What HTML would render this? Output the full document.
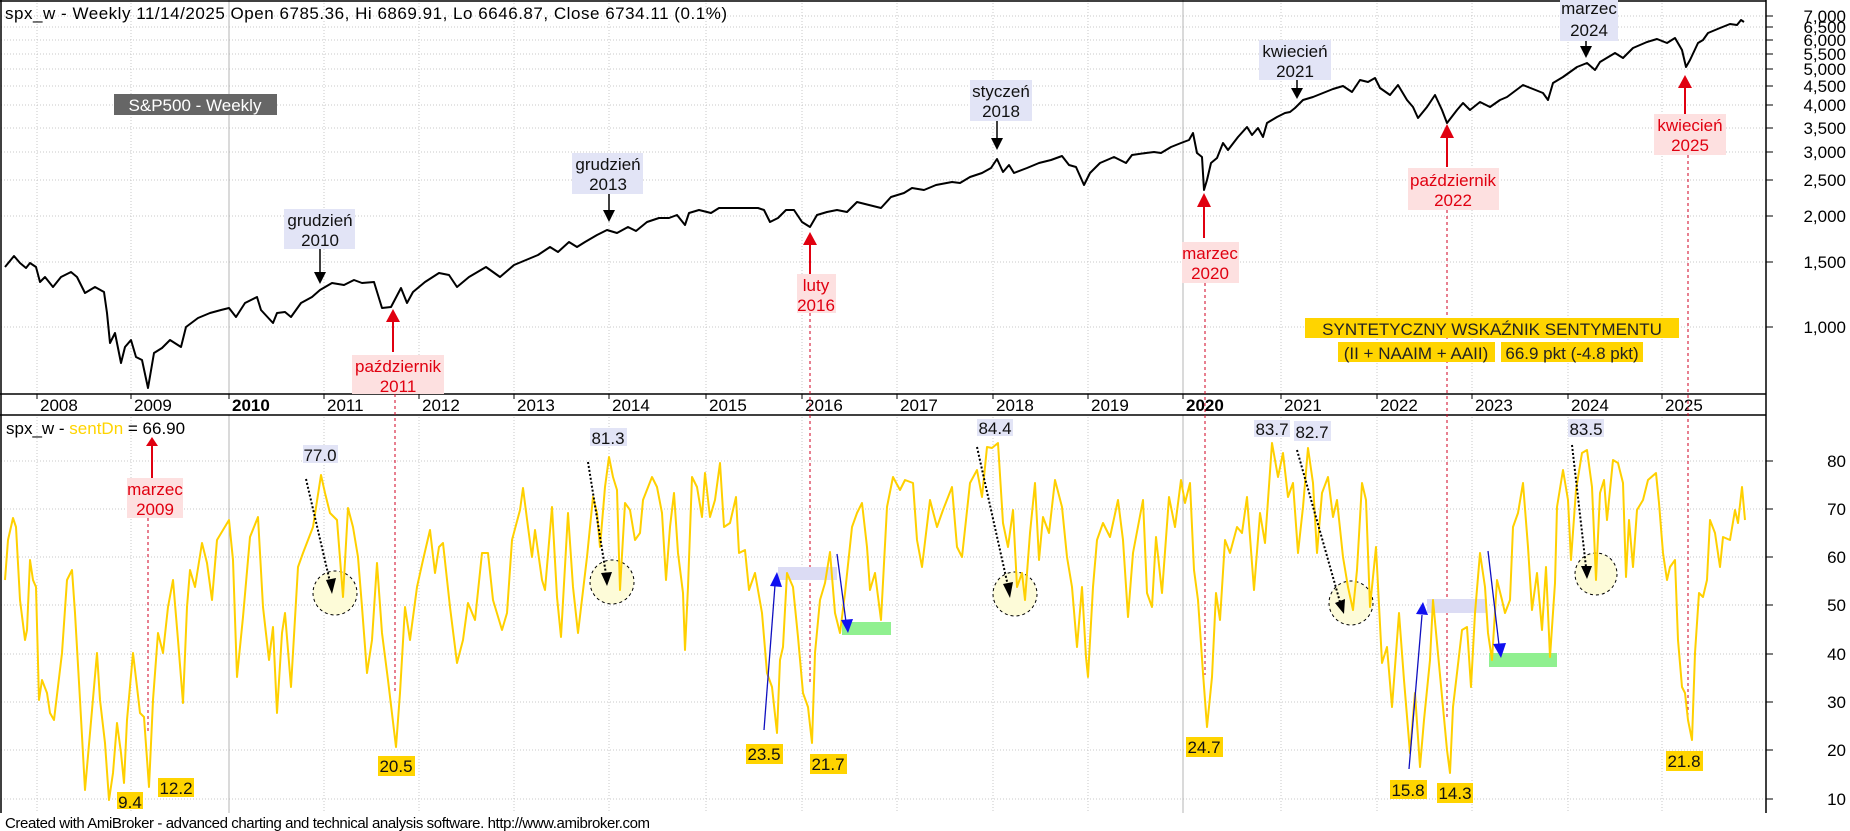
<!DOCTYPE html>
<html><head><meta charset="utf-8"><style>
html,body{margin:0;padding:0;background:#fff;}
svg{display:block;font-family:"Liberation Sans",Arial,sans-serif;}
</style></head><body>
<svg width="1850" height="831" viewBox="0 0 1850 831" xmlns="http://www.w3.org/2000/svg">
<rect width="1850" height="831" fill="#fff"/>
<!-- grid horizontal top -->
<g stroke="#c8c8c8" stroke-width="1" stroke-dasharray="1,2">
<line x1="1" y1="16" x2="1766" y2="16"/><line x1="1" y1="27" x2="1766" y2="27"/><line x1="1" y1="40" x2="1766" y2="40"/><line x1="1" y1="54" x2="1766" y2="54"/><line x1="1" y1="69" x2="1766" y2="69"/><line x1="1" y1="86" x2="1766" y2="86"/><line x1="1" y1="105" x2="1766" y2="105"/><line x1="1" y1="128" x2="1766" y2="128"/><line x1="1" y1="152" x2="1766" y2="152"/><line x1="1" y1="180" x2="1766" y2="180"/><line x1="1" y1="216" x2="1766" y2="216"/><line x1="1" y1="262" x2="1766" y2="262"/><line x1="1" y1="327" x2="1766" y2="327"/>
<line x1="1" y1="461" x2="1766" y2="461"/><line x1="1" y1="509" x2="1766" y2="509"/><line x1="1" y1="557" x2="1766" y2="557"/><line x1="1" y1="605" x2="1766" y2="605"/><line x1="1" y1="654" x2="1766" y2="654"/><line x1="1" y1="702" x2="1766" y2="702"/><line x1="1" y1="750" x2="1766" y2="750"/><line x1="1" y1="799" x2="1766" y2="799"/>
</g>
<!-- vertical grid -->
<g stroke="#c8c8c8" stroke-width="1" stroke-dasharray="1,2">
<line x1="37" y1="0" x2="37" y2="813"/><line x1="131" y1="0" x2="131" y2="813"/><line x1="324" y1="0" x2="324" y2="813"/><line x1="419" y1="0" x2="419" y2="813"/><line x1="514" y1="0" x2="514" y2="813"/><line x1="609" y1="0" x2="609" y2="813"/><line x1="706" y1="0" x2="706" y2="813"/><line x1="802" y1="0" x2="802" y2="813"/><line x1="897" y1="0" x2="897" y2="813"/><line x1="993" y1="0" x2="993" y2="813"/><line x1="1088" y1="0" x2="1088" y2="813"/><line x1="1281" y1="0" x2="1281" y2="813"/><line x1="1377" y1="0" x2="1377" y2="813"/><line x1="1472" y1="0" x2="1472" y2="813"/><line x1="1568" y1="0" x2="1568" y2="813"/><line x1="1662" y1="0" x2="1662" y2="813"/>
</g>
<g stroke="#b4b4b4" stroke-width="1"><line x1="229" y1="0" x2="229" y2="813"/><line x1="1183" y1="0" x2="1183" y2="813"/></g>
<!-- date strip -->
<rect x="1" y="395" width="1765" height="20" fill="#fff"/>
<g stroke="#000" stroke-width="1.5"><line x1="0" y1="394" x2="1766" y2="394"/><line x1="0" y1="415" x2="1766" y2="415"/><line x1="0" y1="1" x2="1766" y2="1"/><line x1="1" y1="0" x2="1" y2="813"/><line x1="1766" y1="0" x2="1766" y2="813"/></g>
<g stroke="#000" stroke-width="1"><line x1="37" y1="394" x2="37" y2="399"/><line x1="131" y1="394" x2="131" y2="399"/><line x1="229" y1="394" x2="229" y2="399"/><line x1="324" y1="394" x2="324" y2="399"/><line x1="419" y1="394" x2="419" y2="399"/><line x1="514" y1="394" x2="514" y2="399"/><line x1="609" y1="394" x2="609" y2="399"/><line x1="706" y1="394" x2="706" y2="399"/><line x1="802" y1="394" x2="802" y2="399"/><line x1="897" y1="394" x2="897" y2="399"/><line x1="993" y1="394" x2="993" y2="399"/><line x1="1088" y1="394" x2="1088" y2="399"/><line x1="1183" y1="394" x2="1183" y2="399"/><line x1="1281" y1="394" x2="1281" y2="399"/><line x1="1377" y1="394" x2="1377" y2="399"/><line x1="1472" y1="394" x2="1472" y2="399"/><line x1="1568" y1="394" x2="1568" y2="399"/><line x1="1662" y1="394" x2="1662" y2="399"/></g>
<g font-size="17" fill="#000">
<text x="40" y="411">2008</text><text x="134" y="411">2009</text><text x="232" y="411" font-weight="bold">2010</text><text x="327" y="411">2011</text><text x="422" y="411">2012</text><text x="517" y="411">2013</text><text x="612" y="411">2014</text><text x="709" y="411">2015</text><text x="805" y="411">2016</text><text x="900" y="411">2017</text><text x="996" y="411">2018</text><text x="1091" y="411">2019</text><text x="1186" y="411" font-weight="bold">2020</text><text x="1284" y="411">2021</text><text x="1380" y="411">2022</text><text x="1475" y="411">2023</text><text x="1571" y="411">2024</text><text x="1665" y="411">2025</text>
</g>
<!-- right axis ticks & labels -->
<g stroke="#000"><line x1="1766" y1="16" x2="1773" y2="16"/><line x1="1766" y1="27" x2="1773" y2="27"/><line x1="1766" y1="40" x2="1773" y2="40"/><line x1="1766" y1="54" x2="1773" y2="54"/><line x1="1766" y1="69" x2="1773" y2="69"/><line x1="1766" y1="86" x2="1773" y2="86"/><line x1="1766" y1="105" x2="1773" y2="105"/><line x1="1766" y1="128" x2="1773" y2="128"/><line x1="1766" y1="152" x2="1773" y2="152"/><line x1="1766" y1="180" x2="1773" y2="180"/><line x1="1766" y1="216" x2="1773" y2="216"/><line x1="1766" y1="262" x2="1773" y2="262"/><line x1="1766" y1="327" x2="1773" y2="327"/>
<line x1="1766" y1="461" x2="1773" y2="461"/><line x1="1766" y1="509" x2="1773" y2="509"/><line x1="1766" y1="557" x2="1773" y2="557"/><line x1="1766" y1="605" x2="1773" y2="605"/><line x1="1766" y1="654" x2="1773" y2="654"/><line x1="1766" y1="702" x2="1773" y2="702"/><line x1="1766" y1="750" x2="1773" y2="750"/><line x1="1766" y1="799" x2="1773" y2="799"/></g>
<g font-size="17" fill="#000" text-anchor="end">
<text x="1846" y="22">7,000</text><text x="1846" y="33">6,500</text><text x="1846" y="46">6,000</text><text x="1846" y="60">5,500</text><text x="1846" y="75">5,000</text><text x="1846" y="92">4,500</text><text x="1846" y="111">4,000</text><text x="1846" y="134">3,500</text><text x="1846" y="158">3,000</text><text x="1846" y="186">2,500</text><text x="1846" y="222">2,000</text><text x="1846" y="268">1,500</text><text x="1846" y="333">1,000</text>
<text x="1846" y="467">80</text><text x="1846" y="515">70</text><text x="1846" y="563">60</text><text x="1846" y="611">50</text><text x="1846" y="660">40</text><text x="1846" y="708">30</text><text x="1846" y="756">20</text><text x="1846" y="805">10</text>
</g>
<!-- header -->
<text x="5" y="19" font-size="17" fill="#000" textLength="722">spx_w - Weekly 11/14/2025 Open 6785.36, Hi 6869.91, Lo 6646.87, Close 6734.11 (0.1%)</text>
<rect x="114" y="94" width="163" height="21" fill="#666"/>
<text x="195" y="111" font-size="17" fill="#fff" text-anchor="middle">S&amp;P500 - Weekly</text>
<!-- red dashed lines -->
<g stroke="#d00020" stroke-width="1" stroke-dasharray="3,3">
<line x1="148" y1="518" x2="148" y2="733"/>
<line x1="395" y1="394" x2="395" y2="693"/>
<line x1="810" y1="313" x2="810" y2="682"/>
<line x1="1205" y1="283" x2="1205" y2="675"/>
<line x1="1447" y1="210" x2="1447" y2="717"/>
<line x1="1688" y1="155" x2="1688" y2="720"/>
</g>
<!-- SPX line -->
<polyline fill="none" stroke="#000" stroke-width="2" stroke-linejoin="round" points="5,267 14,256 20,263 26,268 30,263 36,267 40,282 45,277 53,287 61,277 71,272 77,277 85,293 95,287 104,292 107,313 110,343 115,333 121,363 125,347 131,340 136,357 142,360 148,388 154,353 162,348 170,340 181,347 186,327 198,318 210,313 221,310 229,308 236,317 245,303 257,297 261,310 273,323 277,313 285,312 291,317 301,303 312,297 320,290 332,283 344,285 354,280 362,283 374,282 382,308 391,307 401,288 407,303 413,292 425,282 439,273 449,275 457,287 469,277 486,267 500,277 514,265 526,260 538,255 550,247 558,252 569,242 577,247 585,242 597,235 607,230 617,233 628,227 636,231 647,222 659,218 669,218 677,215 685,225 689,213 699,210 711,213 719,208 734,208 746,208 758,208 764,210 770,222 778,218 786,210 794,210 802,222 810,227 817,215 827,212 837,210 847,212 857,202 869,205 881,208 891,197 904,193 912,188 924,190 936,185 952,182 960,183 970,177 982,173 991,168 997,159 1003,172 1009,165 1014,173 1027,168 1039,163 1051,160 1062,156 1069,165 1076,167 1084,185 1090,173 1100,163 1114,157 1126,163 1132,155 1146,153 1154,152 1161,153 1171,147 1181,143 1189,140 1193,133 1197,153 1202,157 1204,190 1207,180 1211,163 1217,158 1223,143 1228,150 1238,137 1247,127 1252,135 1258,128 1263,137 1267,123 1277,117 1285,113 1290,112 1295,108 1303,100 1313,97 1323,93 1333,89 1343,86 1352,92 1360,80 1368,82 1375,78 1380,88 1390,95 1398,85 1407,100 1413,107 1418,118 1427,107 1435,95 1442,110 1447,123 1457,110 1463,103 1470,110 1480,102 1490,107 1500,100 1507,97 1523,85 1533,89 1543,93 1548,100 1553,83 1563,77 1577,67 1587,63 1595,70 1600,62 1615,53 1623,58 1633,48 1647,42 1657,39 1667,43 1675,38 1682,50 1686,67 1690,60 1698,43 1703,40 1708,33 1720,28 1730,24 1737,25 1741,20 1744,22"/>
<!-- top annotations -->
<g font-size="17" text-anchor="middle">
<rect x="284" y="209" width="71" height="40" fill="#e2e4f6"/><text x="320" y="226" fill="#111">grudzień</text><text x="320" y="246" fill="#111">2010</text>
<rect x="572" y="153" width="71" height="41" fill="#e2e4f6"/><text x="608" y="170" fill="#111">grudzień</text><text x="608" y="190" fill="#111">2013</text>
<rect x="970" y="80" width="62" height="41" fill="#e2e4f6"/><text x="1001" y="97" fill="#111">styczeń</text><text x="1001" y="117" fill="#111">2018</text>
<rect x="1259" y="40" width="72" height="40" fill="#e2e4f6"/><text x="1295" y="57" fill="#111">kwiecień</text><text x="1295" y="77" fill="#111">2021</text>
<rect x="1560" y="0" width="58" height="41" fill="#e2e4f6"/><text x="1589" y="14" fill="#111">marzec</text><text x="1589" y="36" fill="#111">2024</text>
<rect x="352" y="355" width="92" height="39" fill="#fde0e0"/><text x="398" y="372" fill="#e00010">październik</text><text x="398" y="392" fill="#e00010">2011</text>
<rect x="797" y="274" width="39" height="39" fill="#fde0e0"/><text x="816" y="291" fill="#e00010">luty</text><text x="816" y="311" fill="#e00010">2016</text>
<rect x="1182" y="242" width="57" height="41" fill="#fde0e0"/><text x="1210" y="259" fill="#e00010">marzec</text><text x="1210" y="279" fill="#e00010">2020</text>
<rect x="1408" y="168" width="91" height="42" fill="#fde0e0"/><text x="1453" y="186" fill="#e00010">październik</text><text x="1453" y="206" fill="#e00010">2022</text>
<rect x="1654" y="114" width="72" height="41" fill="#fde0e0"/><text x="1690" y="131" fill="#e00010">kwiecień</text><text x="1690" y="151" fill="#e00010">2025</text>
</g>
<!-- top arrows -->
<g stroke="#000" stroke-width="1.5"><line x1="320" y1="249" x2="320" y2="276"/><line x1="609" y1="194" x2="609" y2="214"/><line x1="997" y1="121" x2="997" y2="142"/><line x1="1297" y1="80" x2="1297" y2="92"/><line x1="1586" y1="41" x2="1586" y2="50"/></g>
<g fill="#000"><polygon points="314,272 326,272 320,284"/><polygon points="603,210 615,210 609,222"/><polygon points="991,138 1003,138 997,150"/><polygon points="1291,88 1303,88 1297,99"/><polygon points="1580,46 1592,46 1586,58"/></g>
<g stroke="#e00010" stroke-width="2"><line x1="393" y1="320" x2="393" y2="352"/><line x1="810" y1="243" x2="810" y2="274"/><line x1="1204" y1="205" x2="1204" y2="238"/><line x1="1447" y1="136" x2="1447" y2="167"/><line x1="1685" y1="86" x2="1685" y2="114"/></g>
<g fill="#e00010"><polygon points="386,322 400,322 393,309"/><polygon points="803,245 817,245 810,232"/><polygon points="1197,207 1211,207 1204,193"/><polygon points="1440,138 1454,138 1447,124"/><polygon points="1678,88 1692,88 1685,75"/></g>
<!-- sentiment title box -->
<rect x="1305" y="318" width="374" height="20" fill="#ffd400"/>
<text x="1492" y="335" font-size="17" fill="#222" text-anchor="middle">SYNTETYCZNY WSKAŹNIK SENTYMENTU</text>
<rect x="1338" y="342" width="157" height="20" fill="#ffd400"/>
<text x="1416" y="359" font-size="17" fill="#222" text-anchor="middle">(II + NAAIM + AAII)</text>
<rect x="1501" y="342" width="142" height="20" fill="#ffd400"/>
<text x="1572" y="359" font-size="17" fill="#222" text-anchor="middle">66.9 pkt (-4.8 pkt)</text>
<!-- lower pane legend -->
<text x="6" y="434" font-size="17" fill="#000">spx_w - <tspan fill="#ffd400">sentDn</tspan> = 66.90</text>
<!-- circles -->
<g fill="#fdfbd8" stroke="#000" stroke-width="1" stroke-dasharray="3,3">
<circle cx="335" cy="593" r="22"/><circle cx="612" cy="582" r="22"/><circle cx="1015" cy="594" r="22"/><circle cx="1351" cy="603" r="22"/><circle cx="1596" cy="574" r="21"/>
</g>
<!-- shaded boxes -->
<rect x="778" y="567" width="59" height="13" fill="#dcdcf4"/>
<rect x="1427" y="599" width="60" height="14" fill="#dcdcf4"/>
<rect x="842" y="622" width="49" height="13" fill="#90f090"/>
<rect x="1489" y="653" width="68" height="14" fill="#90f090"/>
<!-- sentiment line -->
<polyline fill="none" stroke="#ffd000" stroke-width="2" stroke-linejoin="round" points="5,580 8,540 13,518 16,527 20,600 25,640 27,630 30,560 33,580 36,587 39,700 42,680 47,693 50,713 54,720 62,653 67,580 72,570 75,613 80,700 85,790 90,733 97,653 100,700 105,743 109,800 113,773 117,723 121,753 124,783 127,720 133,653 137,687 140,713 144,717 149,787 153,700 158,633 163,653 168,607 173,580 178,640 183,703 187,607 190,570 195,587 202,543 207,563 212,600 217,540 223,530 229,520 233,560 237,677 243,617 250,537 258,517 263,607 269,660 273,627 277,713 282,633 285,613 291,687 298,567 303,553 313,527 321,475 325,493 330,513 337,520 343,597 348,508 353,527 358,557 362,607 367,673 372,640 377,563 382,633 388,680 396,747 400,693 405,607 410,640 417,587 423,560 430,530 435,573 439,547 443,543 450,607 457,663 463,640 468,603 475,620 482,553 488,553 493,600 502,630 507,613 512,540 520,510 523,488 528,527 532,557 535,530 542,580 545,590 552,507 557,597 561,637 568,513 573,587 578,633 587,557 593,497 597,513 600,547 605,487 609,457 613,477 617,490 620,590 625,503 630,510 635,540 640,533 643,500 652,477 657,487 662,513 666,580 670,527 674,493 678,553 683,593 685,650 688,587 692,477 697,487 702,517 705,473 710,517 715,500 720,463 724,527 730,523 736,497 739,553 745,550 749,590 755,573 762,613 767,673 772,687 777,733 780,660 783,647 787,573 793,587 798,637 803,693 808,707 812,743 815,653 820,600 825,583 830,552 835,613 840,633 845,593 852,527 857,513 862,503 867,547 870,590 875,573 881,620 887,507 893,477 900,490 905,480 913,483 917,540 922,567 930,500 937,527 943,510 952,487 957,547 962,557 970,483 977,470 982,497 987,447 992,448 998,443 1003,523 1008,547 1013,510 1017,587 1022,573 1025,600 1030,533 1035,483 1039,560 1043,517 1049,533 1055,480 1062,507 1067,557 1072,587 1077,647 1082,587 1086,657 1088,677 1093,587 1097,540 1103,523 1110,537 1118,500 1123,540 1128,617 1133,553 1143,500 1147,593 1152,607 1156,537 1162,593 1169,497 1175,527 1181,480 1185,503 1190,483 1194,570 1198,600 1203,673 1207,727 1212,677 1216,593 1220,620 1225,540 1230,553 1237,527 1242,533 1247,497 1254,590 1260,513 1265,543 1272,443 1278,477 1283,453 1288,497 1293,483 1298,553 1303,507 1308,448 1313,483 1317,553 1322,493 1328,477 1333,517 1337,500 1343,557 1348,587 1353,610 1357,570 1362,483 1366,500 1370,607 1376,547 1382,663 1387,647 1392,707 1399,613 1404,680 1410,753 1415,693 1420,767 1424,720 1430,660 1433,600 1437,643 1443,707 1447,750 1450,773 1453,707 1457,673 1462,630 1467,627 1471,687 1475,613 1480,553 1485,587 1488,633 1492,660 1497,580 1502,600 1505,613 1510,600 1513,527 1518,513 1523,483 1528,547 1532,610 1537,573 1542,630 1546,567 1550,657 1555,583 1557,507 1563,470 1568,500 1571,560 1576,490 1582,453 1587,450 1592,487 1596,580 1600,493 1604,480 1607,520 1613,460 1618,463 1623,483 1626,577 1629,520 1633,567 1637,510 1643,500 1648,480 1656,473 1659,503 1663,553 1667,580 1670,567 1675,560 1678,640 1682,687 1685,693 1688,720 1692,740 1695,653 1699,593 1703,597 1707,580 1710,520 1715,533 1720,567 1723,537 1730,540 1735,510 1738,523 1742,487 1745,520"/>
<!-- dotted arrows -->
<g stroke="#000" stroke-width="2" stroke-dasharray="2,2" fill="none">
<line x1="306" y1="479" x2="330" y2="582"/><line x1="588" y1="462" x2="606" y2="574"/><line x1="977" y1="447" x2="1008" y2="586"/><line x1="1297" y1="450" x2="1340" y2="602"/><line x1="1572" y1="445" x2="1586" y2="567"/>
</g>
<g fill="#000"><polygon points="326,580 336,578 332,594"/><polygon points="601,573 612,572 607,586"/><polygon points="1003,584 1013,582 1010,598"/><polygon points="1335,603 1345,599 1344,614"/><polygon points="1581,566 1592,566 1587,579"/></g>
<!-- blue arrows -->
<g stroke="#1010c0" stroke-width="1.3"><line x1="764" y1="730" x2="775" y2="585"/><line x1="837" y1="554" x2="846" y2="622"/><line x1="1409" y1="769" x2="1422" y2="615"/><line x1="1488" y1="551" x2="1499" y2="645"/></g>
<g fill="#1010f0"><polygon points="770,586 782,587 777,572"/><polygon points="841,620 853,619 848,633"/><polygon points="1416,614 1428,615 1423,602"/><polygon points="1493,644 1506,643 1501,658"/></g>
<!-- red arrow marzec 2009 -->
<rect x="127" y="478" width="56" height="40" fill="#fde0e0"/>
<text x="155" y="495" font-size="17" fill="#e00010" text-anchor="middle">marzec</text>
<text x="155" y="515" font-size="17" fill="#e00010" text-anchor="middle">2009</text>
<line x1="152" y1="445" x2="152" y2="478" stroke="#e00010" stroke-width="2"/>
<polygon points="146,446 158,446 152,437" fill="#e00010"/>
<!-- value labels -->
<g font-size="17" text-anchor="middle">
<rect x="303" y="445" width="35" height="18" fill="#e2e4f6"/><text x="320" y="461" fill="#111">77.0</text>
<rect x="590" y="428" width="37" height="18" fill="#e2e4f6"/><text x="608" y="444" fill="#111">81.3</text>
<rect x="977" y="419" width="36" height="17" fill="#e2e4f6"/><text x="995" y="434" fill="#111">84.4</text>
<rect x="1254" y="420" width="36" height="17" fill="#e2e4f6"/><text x="1272" y="435" fill="#111">83.7</text>
<rect x="1294" y="421" width="37" height="20" fill="#e2e4f6"/><text x="1312" y="438" fill="#111">82.7</text>
<rect x="1568" y="419" width="36" height="18" fill="#e2e4f6"/><text x="1586" y="435" fill="#111">83.5</text>
<rect x="117" y="792" width="26" height="17" fill="#ffd400"/><text x="130" y="808" fill="#111">9.4</text>
<rect x="158" y="778" width="36" height="19" fill="#ffd400"/><text x="176" y="794" fill="#111">12.2</text>
<rect x="378" y="756" width="37" height="20" fill="#ffd400"/><text x="396" y="772" fill="#111">20.5</text>
<rect x="746" y="744" width="37" height="20" fill="#ffd400"/><text x="764" y="760" fill="#111">23.5</text>
<rect x="810" y="754" width="37" height="20" fill="#ffd400"/><text x="828" y="770" fill="#111">21.7</text>
<rect x="1186" y="737" width="37" height="20" fill="#ffd400"/><text x="1204" y="753" fill="#111">24.7</text>
<rect x="1390" y="780" width="37" height="19" fill="#ffd400"/><text x="1408" y="796" fill="#111">15.8</text>
<rect x="1437" y="783" width="36" height="20" fill="#ffd400"/><text x="1455" y="799" fill="#111">14.3</text>
<rect x="1666" y="751" width="37" height="20" fill="#ffd400"/><text x="1684" y="767" fill="#111">21.8</text>
</g>
<!-- footer -->
<text x="5" y="828" font-size="15" fill="#000" textLength="645">Created with AmiBroker - advanced charting and technical analysis software. http://www.amibroker.com</text>
</svg>
</body></html>
